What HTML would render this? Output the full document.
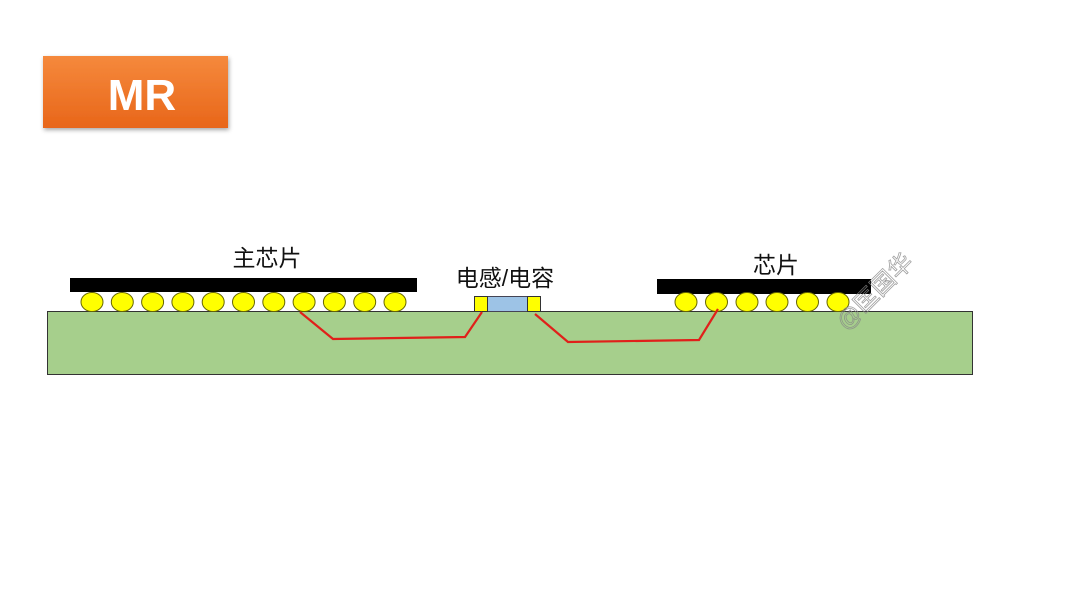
<!DOCTYPE html>
<html><head><meta charset="utf-8"><style>
html,body{margin:0;padding:0;background:#fff;width:1080px;height:608px;overflow:hidden}
</style></head><body>
<svg width="1080" height="608" viewBox="0 0 1080 608" xmlns="http://www.w3.org/2000/svg">
<defs>
<linearGradient id="og" x1="0" y1="0" x2="0" y2="1">
<stop offset="0" stop-color="#f5893c"/><stop offset="1" stop-color="#e8661a"/>
</linearGradient>
<filter id="sh" x="-10%" y="-10%" width="130%" height="140%"><feDropShadow dx="1" dy="2" stdDeviation="2" flood-opacity="0.35"/></filter>
</defs>
<rect x="43" y="56" width="185" height="72" fill="url(#og)" filter="url(#sh)"/>
<text x="142" y="110" text-anchor="middle" font-family="Liberation Sans, sans-serif" font-weight="bold" font-size="44" fill="#fff">MR</text>

<rect x="47.5" y="311.5" width="925" height="63" fill="#a6cf8c" stroke="#333" stroke-width="1"/>

<rect x="70" y="278" width="347" height="14" fill="#000"/>
<g fill="#ffff00" stroke="#666600" stroke-width="1">
<ellipse cx="92" cy="302" rx="11" ry="9.5"/><ellipse cx="122.3" cy="302" rx="11" ry="9.5"/><ellipse cx="152.6" cy="302" rx="11" ry="9.5"/><ellipse cx="182.9" cy="302" rx="11" ry="9.5"/><ellipse cx="213.2" cy="302" rx="11" ry="9.5"/><ellipse cx="243.5" cy="302" rx="11" ry="9.5"/><ellipse cx="273.8" cy="302" rx="11" ry="9.5"/><ellipse cx="304.1" cy="302" rx="11" ry="9.5"/><ellipse cx="334.4" cy="302" rx="11" ry="9.5"/><ellipse cx="364.7" cy="302" rx="11" ry="9.5"/><ellipse cx="395" cy="302" rx="11" ry="9.5"/>
</g>

<rect x="657" y="279" width="214" height="15" fill="#000"/>
<g fill="#ffff00" stroke="#666600" stroke-width="1">
<ellipse cx="686" cy="302" rx="11" ry="9.5"/><ellipse cx="716.5" cy="302" rx="11" ry="9.5"/><ellipse cx="747" cy="302" rx="11" ry="9.5"/><ellipse cx="777" cy="302" rx="11" ry="9.5"/><ellipse cx="807.5" cy="302" rx="11" ry="9.5"/><ellipse cx="838" cy="302" rx="11" ry="9.5"/>
</g>

<rect x="487.5" y="296.5" width="40" height="15" fill="#9dc3e6" stroke="#445" stroke-width="1"/>
<rect x="474.5" y="296.5" width="13" height="15" fill="#ffff00" stroke="#333" stroke-width="1"/>
<rect x="527.5" y="296.5" width="13" height="15" fill="#ffff00" stroke="#333" stroke-width="1"/>

<g fill="none" stroke="#e0201a" stroke-width="2.2">
<polyline points="300,312 333,339 465,337 482,312"/>
<polyline points="535,314 568,342 699,340 718,309"/>
</g>

<g font-family="Liberation Sans, Noto Sans CJK SC, sans-serif" fill="#111" font-size="23" text-anchor="middle">
<text x="267" y="266">主芯片</text>
<text x="505" y="286">电感/电容</text>
<text x="776" y="273">芯片</text>
</g>
<text transform="translate(876,293) rotate(-45)" text-anchor="middle" dominant-baseline="middle" font-family="Liberation Sans, Noto Sans CJK SC, sans-serif" font-size="24" fill="none" stroke="#888" stroke-width="0.8" opacity="0.8">@匡国华</text>
</svg>
</body></html>
